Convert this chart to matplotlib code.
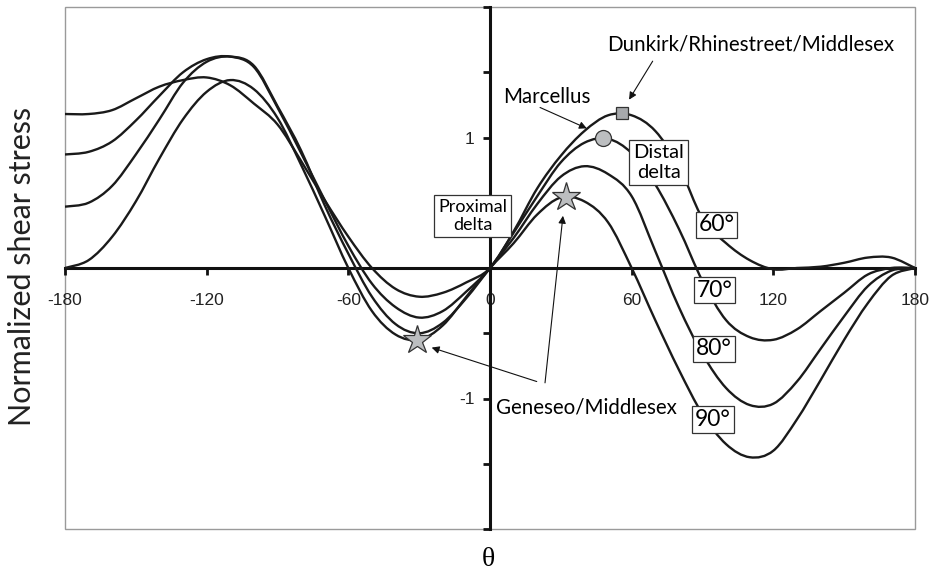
import numpy as np
import matplotlib.pyplot as plt
from matplotlib.path import Path
from matplotlib.patches import PathPatch, Rectangle

# strike angle theta (deg) and normalized shear stress
theta = list(range(-180, 181, 10))

dip60 = [1.18, 1.18, 1.21, 1.30, 1.39, 1.44, 1.46, 1.40, 1.26, 1.10, 0.82, 0.52, 0.24, 0.00, -0.16, -0.22, -0.19, -0.11,
         0.00,
         0.28, 0.61, 0.86, 1.05, 1.17, 1.17, 1.05, 0.78, 0.38, 0.19, 0.06, -0.01, 0.00, 0.01, 0.04, 0.08, 0.08, 0.00]
dip70 = [0.87, 0.89, 0.97, 1.13, 1.32, 1.50, 1.60, 1.62, 1.54, 1.23, 0.88, 0.52, 0.17, -0.12, -0.30, -0.38, -0.33, -0.18,
         0.00,
         0.27, 0.55, 0.81, 0.96, 0.99, 0.88, 0.64, 0.30, -0.10, -0.40, -0.53, -0.55, -0.47, -0.33, -0.19, -0.05, 0.00, 0.00]
dip80 = [0.47, 0.50, 0.63, 0.87, 1.14, 1.42, 1.58, 1.62, 1.55, 1.24, 0.90, 0.48, 0.11, -0.22, -0.43, -0.50, -0.42, -0.23,
         0.00,
         0.23, 0.49, 0.70, 0.78, 0.72, 0.55, 0.13, -0.30, -0.66, -0.92, -1.05, -1.04, -0.87, -0.62, -0.37, -0.14, -0.02, 0.00]
dip90 = [0.00, 0.06, 0.24, 0.51, 0.84, 1.14, 1.35, 1.44, 1.37, 1.15, 0.79, 0.40, 0.00, -0.33, -0.51, -0.55, -0.44, -0.22,
         0.00,
         0.19, 0.41, 0.54, 0.51, 0.35, 0.00, -0.40, -0.78, -1.12, -1.35, -1.45, -1.40, -1.16, -0.86, -0.55, -0.27, -0.06, 0.00]

xticks = [-180, -120, -60, 0, 60, 120, 180]
yticks = [-2, -1.5, -1, -0.5, 0.5, 1, 1.5, 2]
ytick_labels = ['', '', '-1', '', '', '1', '', '']

# marked formations (theta, stress)
dunkirk = (56, 1.19)
distal = (48, 1.0)
geneseo = [(-31, -0.55), (32, 0.545)]

dip_labels = ['60°', '70°', '80°', '90°']
dip_label_pos = [(95.9, 0.33), (95.1, -0.17), (94.9, -0.62), (94.5, -1.16)]

ann_font = 'Lato'
tick_font = 'Liberation Sans'
line_col = '#1a1a1a'


def smooth_path(x, y):
    # smoothed line like the excel chart (catmull-rom as bezier segments)
    pts = np.column_stack([x, y]).astype(float)
    p = np.vstack([pts[0], pts, pts[-1]])
    verts = [pts[0]]
    codes = [Path.MOVETO]
    for i in range(1, len(p) - 2):
        c1 = p[i] + (p[i + 1] - p[i - 1]) / 6
        c2 = p[i + 1] - (p[i + 2] - p[i]) / 6
        verts += [c1, c2, p[i + 1]]
        codes += [Path.CURVE4] * 3
    return Path(verts, codes)


fig = plt.figure(figsize=(9.43, 5.74), dpi=100)
ax = fig.add_axes([65 / 943, 1 - 529 / 574, 850 / 943, 522 / 574])
ax.set_xlim(-180, 180)
ax.set_ylim(-2, 2)

for series in [dip60, dip70, dip80, dip90]:
    ax.add_patch(PathPatch(smooth_path(theta, series), fill=False, lw=1.7, ec=line_col, zorder=3))

# axes crossing at the origin, thin grey frame around the plot
for s in ['top', 'right']:
    ax.spines[s].set_visible(False)
ax.spines['left'].set_position(('data', 0))
ax.spines['bottom'].set_position(('data', 0))
for s in ['left', 'bottom']:
    ax.spines[s].set_linewidth(2.2)
    ax.spines[s].set_color('#111111')
ax.add_patch(Rectangle((0, 0), 1, 1, transform=ax.transAxes, fill=False, ec='#9a9a9a', lw=1.0, clip_on=False, zorder=0))

ax.set_xticks(xticks)
ax.set_xticklabels([str(t) for t in xticks])
ax.set_yticks(yticks)
ax.set_yticklabels(ytick_labels)
ax.tick_params(axis='both', direction='out', length=5, width=2, color='#111111')
ax.tick_params(axis='x', pad=13)
ax.tick_params(axis='y', pad=6)
for lab in ax.get_xticklabels() + ax.get_yticklabels():
    lab.set_family(tick_font)
    lab.set_fontsize(12.5)
    lab.set_color('#222222')

# markers
ax.plot(*dunkirk, 's', ms=9, mfc='#a7a9ac', mec='#333333', mew=0.9, zorder=5)
ax.plot(*distal, 'o', ms=11.5, mfc='#bcbec0', mec='#333333', mew=0.9, zorder=5)
for g in geneseo:
    ax.plot(*g, '*', ms=21, mfc='#bcbec0', mec='#333333', mew=0.9, zorder=5)

arrow = dict(arrowstyle='-|>', color='#111111', lw=0.8, mutation_scale=11, shrinkA=0, shrinkB=0)

ax.text(110.5, 1.71, 'Dunkirk/Rhinestreet/Middlesex', ha='center', va='center', fontsize=14.8, family=ann_font)
ax.annotate('', xy=(58.9, 1.29), xytext=(68.9, 1.585), arrowprops=arrow, zorder=6)

ax.text(24.1, 1.31, 'Marcellus', ha='center', va='center', fontsize=14.8, family=ann_font)
ax.annotate('', xy=(41, 1.07), xytext=(21.2, 1.23), arrowprops=arrow, zorder=6)

box = dict(boxstyle='square,pad=0.2', fc='white', ec='#333333', lw=0.9)
ax.text(71.4, 0.81, 'Distal\ndelta', ha='center', va='center', fontsize=14.5, family=ann_font,
        linespacing=1.2, bbox=box, zorder=7)
ax.text(-7.4, 0.40, 'Proximal\ndelta', ha='center', va='center', fontsize=13, family=ann_font,
        linespacing=1.2, bbox=box, zorder=7)

for lab, (x, y) in zip(dip_labels, dip_label_pos):
    ax.text(x, y, lab, ha='center', va='center', fontsize=16.5, family=ann_font,
            bbox=dict(boxstyle='square,pad=0.12', fc='white', ec='#333333', lw=0.9), zorder=7)

ax.text(2.5, -1.07, 'Geneseo/Middlesex', ha='left', va='center', fontsize=14.8, family=ann_font)
ax.annotate('', xy=(-24.7, -0.61), xytext=(19.8, -0.87), arrowprops=arrow, zorder=6)
ax.annotate('', xy=(30.9, 0.40), xytext=(23.3, -0.88), arrowprops=arrow, zorder=6)

fig.text(22 / 943, 1 - 266 / 574, 'Normalized shear stress', rotation=90, ha='center', va='center',
         fontsize=22, family=ann_font, color='#222222')
fig.text(488 / 943, 1 - 566 / 574, 'θ', ha='center', va='baseline', fontsize=20, family='Liberation Serif')

fig.savefig('out.png', dpi=100)
